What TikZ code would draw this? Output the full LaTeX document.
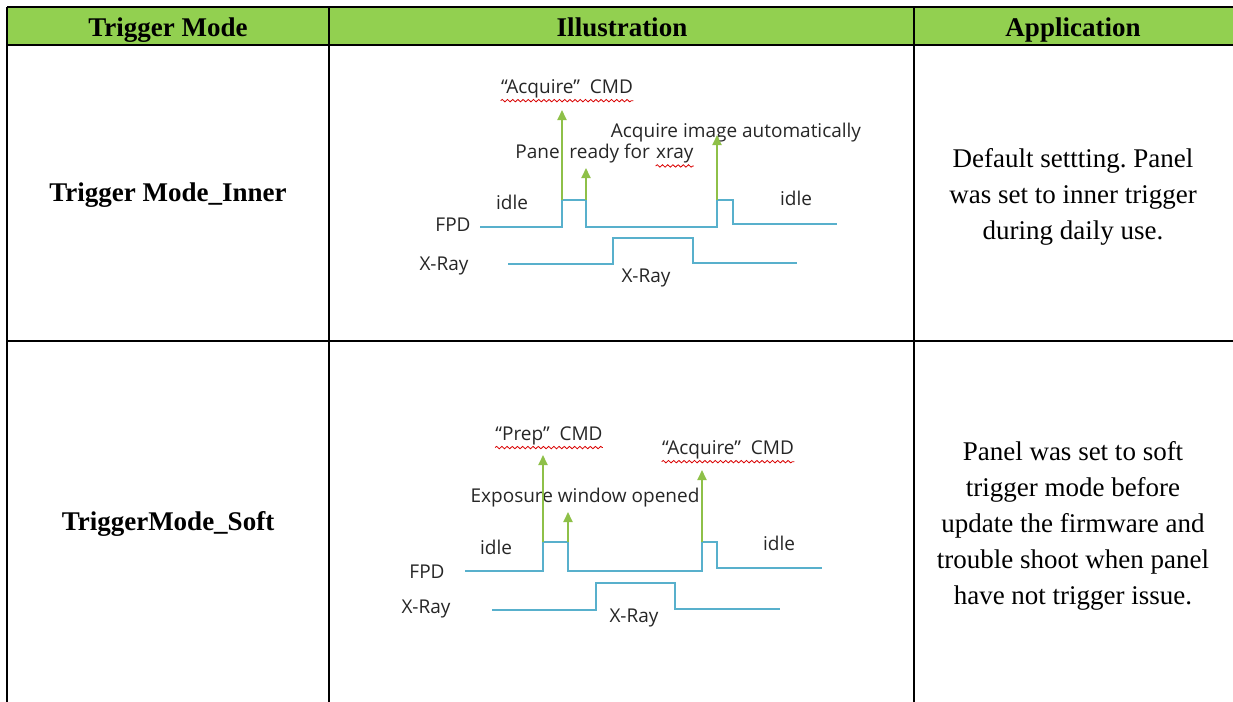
\documentclass[tikz,border=0pt]{standalone}
\usepackage{fontspec}
\setmainfont{Liberation Serif}
\newfontfamily\diagfont{Open Sans}
\usetikzlibrary{arrows.meta, positioning, decorations.pathmorphing}
\definecolor{headgreen}{RGB}{146,208,80}
\definecolor{sigblue}{RGB}{88,176,204}
\definecolor{arrgreen}{RGB}{142,192,72}
\frenchspacing

\begin{document}
\begin{tikzpicture}[x=0.5pt, y=-0.5pt,
    grid/.style={line width=1pt, black},
    head/.style={font=\fontsize{13.5}{16}\selectfont\bfseries},
    appl/.style={font=\fontsize{13.5}{18}\selectfont, align=center},
    lbl/.style={font=\diagfont\fontsize{9.5}{11}\selectfont, text=black!85, inner sep=0pt},
    signal/.style={sigblue, line width=0.8pt},
    trig/.style={arrgreen, line width=0.9pt, -{Triangle[length=5pt, width=4.5pt]}},
    spell/.style={red!85!black, line width=0.4pt, decorate,
      decoration={snake, amplitude=0.6pt, segment length=2.6pt}}]
  \useasboundingbox (0,0) rectangle (1233,702);

  % table
  \fill[headgreen] (7,7) rectangle (1233,45);
  \draw[grid] (7,7) -- (1233,7);
  \draw[grid] (7,45) -- (1233,45);
  \draw[grid] (7,341) -- (1233,341);
  \foreach \x in {7,329,914}
    \draw[grid] (\x,7) -- (\x,702);

  \node[head, anchor=base] (hmode) at (168,36) {Trigger Mode};
  \node[head, anchor=base] (hill) at (622,36) {Illustration};
  \node[head, anchor=base] (happ) at (1073,36) {Application};

  \node[head] (inner) at (168,195) {Trigger Mode\_Inner};
  \node[head] (soft) at (168,524) {TriggerMode\_Soft};

  \node[appl] (app1) at (1073,197) {Default settting. Panel\\was set to inner trigger\\during daily use.};
  \node[appl] (app2) at (1073,526) {Panel was set to soft\\trigger mode before\\update the firmware and\\trouble shoot when panel\\have not trigger issue.};

  % inner trigger timing
  \draw[signal] (480,227) -- (562,227) -- (562,200) coordinate (ia)
    -- (586,200) coordinate (ib) -- (586,227) -- (717,227)
    -- (717,200) coordinate (ic) -- (733,200) -- (733,224) -- (837,224);
  \draw[signal] (508,264) -- (613,264) -- (613,238) -- (693,238) -- (693,263) -- (797,263);

  \node[lbl] (icmd) at (567,89) {“Acquire”\ \ CMD};
  \node[lbl] (iauto) at (736,133) {Acquire image automatically};
  \node[lbl, anchor=west] (iready) at (515,154) {Panel ready for};
  \node[lbl, anchor=base west] (ixray) at ([xshift=2.7pt]iready.base east) {xray};
  \node[lbl] (iidle1) at (512,202) {idle};
  \node[lbl] (iidle2) at (796,198) {idle};
  \node[lbl] (ifpd) at (453,225) {FPD};
  \node[lbl] (ixl) at (444,266) {X-Ray};
  \node[lbl] (ixb) at (646,278) {X-Ray};

  \coordinate (iat) at (562,110);
  \coordinate (ibt) at (586,168);
  \coordinate (ict) at (717,135);
  \draw[trig] (ia) -- (iat);
  \draw[trig] (ib) -- (ibt);
  \draw[trig] (ic) -- (ict);

  \draw[spell] ([yshift=-1pt]icmd.south west) -- ([yshift=-1pt]icmd.south east);
  \draw[spell] ([yshift=-1pt]ixray.south west) -- ([yshift=-1pt]ixray.south east);

  % soft trigger timing
  \draw[signal] (465,571) -- (543,571) -- (543,542) coordinate (sa)
    -- (568,542) coordinate (sb) -- (568,571) -- (702,571)
    -- (702,542) coordinate (sc) -- (717,542) -- (717,568) -- (822,568);
  \draw[signal] (492,610) -- (596,610) -- (596,583) -- (675,583) -- (675,609) -- (780,609);

  \node[lbl] (scmd1) at (549,436) {“Prep”\ \ CMD};
  \node[lbl] (scmd2) at (728,450) {“Acquire”\ \ CMD};
  \node[lbl] (sexp) at (585,498) {Exposure window opened};
  \node[lbl] (sidle1) at (496,547) {idle};
  \node[lbl] (sidle2) at (779,543) {idle};
  \node[lbl] (sfpd) at (427,572) {FPD};
  \node[lbl] (sxl) at (426,609) {X-Ray};
  \node[lbl] (sxb) at (634,618) {X-Ray};

  \coordinate (sat) at (543,455);
  \coordinate (sbt) at (568,512);
  \coordinate (sct) at (702,470);
  \draw[trig] (sa) -- (sat);
  \draw[trig] (sb) -- (sbt);
  \draw[trig] (sc) -- (sct);

  \draw[spell] ([yshift=-1pt]scmd1.south west) -- ([yshift=-1pt]scmd1.south east);
  \draw[spell] ([yshift=-1pt]scmd2.south west) -- ([yshift=-1pt]scmd2.south east);
\end{tikzpicture}
\end{document}
